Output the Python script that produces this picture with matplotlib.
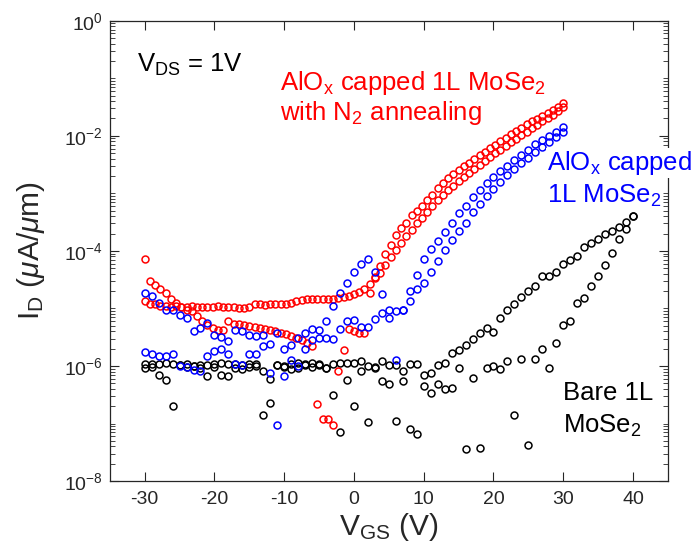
import numpy as np
import matplotlib
matplotlib.use('Agg')
import matplotlib.pyplot as plt

plt.rcParams['font.family'] = ['Liberation Sans', 'DejaVu Sans']
plt.rcParams['mathtext.fontset'] = 'custom'
plt.rcParams['mathtext.rm'] = 'Liberation Sans'
plt.rcParams['mathtext.it'] = 'Liberation Sans:italic'
plt.rcParams['mathtext.bf'] = 'Liberation Sans:bold'

# gate voltage sweeps
vgs_red = np.arange(-30, 30.01, 0.75)
vgs_blue = np.arange(-30, 31, 1)
vgs_black = np.arange(-30, 41, 1)

# log10(I_D), two sweeps per device
red_fwd = [-4.87, -4.92, -4.93, -4.95, -4.96, -4.97, -4.96, -4.97, -4.97, -4.96,
           -4.97, -4.97, -4.97, -4.97, -4.96, -4.97, -4.97, -4.98, -4.99, -5.00,
           -4.97, -4.93, -4.93, -4.94, -4.93, -4.93, -4.92, -4.92, -4.90, -4.87,
           -4.85, -4.84, -4.84, -4.84, -4.84, -4.84, -4.83, -4.82, -4.80, -4.79,
           -4.75, -4.71, -4.66, -4.58, -4.48, -4.38, -4.24, -4.10, -3.98, -3.86,
           -3.74, -3.64, -3.52, -3.42, -3.32, -3.22, -3.12, -3.03, -2.95, -2.87,
           -2.79, -2.72, -2.64, -2.57, -2.50, -2.44, -2.37, -2.30, -2.24, -2.18,
           -2.11, -2.05, -1.99, -1.93, -1.87, -1.81, -1.75, -1.69, -1.63, -1.57,
           -1.50]
red_rev = [-4.14, -4.52, -4.60, -4.66, -4.74, -4.84, -4.91, -4.98, -5.02, -5.05,
           -5.14, -5.21, -5.28, -5.34, -5.38, -5.37, -5.21, -5.27, -5.27, -5.28,
           -5.30, -5.32, -5.34, -5.35, -5.37, -5.40, -5.42, -5.45, -5.48, -5.52,
           -5.55, -5.60, -5.65, -6.66, -6.93, -6.93, -7.02, -6.09, -5.72, -5.36,
           -5.40, -5.43, -5.42, -4.73, -4.45, -4.26, -4.05, -3.89, -3.72, -3.60,
           -3.52, -3.37, -3.30, -3.22, -3.12, -3.03, -2.90, -2.82, -2.74, -2.67,
           -2.60, -2.53, -2.47, -2.41, -2.34, -2.28, -2.22, -2.16, -2.09, -2.03,
           -1.97, -1.92, -1.86, -1.80, -1.75, -1.70, -1.65, -1.60, -1.55, -1.50,
           -1.43]

blue_fwd = [-4.73, -4.79, -4.90, -5.02, -5.02, -5.11, -5.17, -5.40, -5.34, -5.25,
            -5.46, -5.50, -5.57, -5.37, -5.39, -5.47, -5.48, -5.46, -5.61, -5.42,
            -5.70, -5.63, -5.51, -5.43, -5.36, -5.37, -5.22, -4.96, -4.73, -4.56,
            -4.37, -4.22, -4.14, -4.37, -4.75, -5.02, -5.05, -5.02, -4.87, -4.66,
            -4.55, -4.37, -4.18, -3.98, -3.81, -3.65, -3.51, -3.33, -3.18, -3.05,
            -2.92, -2.80, -2.68, -2.57, -2.47, -2.38, -2.29, -2.20, -2.11, -2.02,
            -1.94]
blue_rev = [-5.76, -5.80, -5.82, -5.82, -5.79, -6.00, -6.02, -6.07, -6.09, -5.83,
            -5.74, -5.70, -5.80, -5.97, -5.98, -5.80, -5.79, -5.66, -6.12, -7.02,
            -6.18, -5.90, -6.00, -5.70, -5.55, -5.51, -5.51, -5.54, -5.36, -5.22,
            -5.20, -5.32, -5.32, -5.18, -5.08, -5.16, -5.89, -5.02, -4.70, -4.42,
            -4.14, -3.97, -3.82, -3.68, -3.51, -3.34, -3.22, -3.07, -2.94, -2.82,
            -2.72, -2.62, -2.52, -2.42, -2.33, -2.24, -2.15, -2.07, -2.00, -1.93,
            -1.85]

black_fwd = [-5.96, -5.96, -5.97, -5.95, -5.97, -5.98, -5.96, -6.00, -5.98, -5.99,
             -5.97, -5.94, -5.96, -5.97, -5.98, -5.96, -5.96, -6.09, -6.23, -5.98,
             -6.00, -5.97, -5.95, -5.96, -5.95, -5.97, -6.04, -5.96, -5.95, -5.95,
             -5.95, -5.92, -6.00, -6.02, -5.92, -5.98, -5.98, -6.08, -5.96, -5.96,
             -6.15, -6.12, -5.98, -5.94, -5.78, -5.72, -5.63, -5.53, -5.42, -5.34,
             -5.41, -5.17, -5.02, -4.92, -4.81, -4.70, -4.61, -4.44, -4.44, -4.36,
             -4.23, -4.15, -4.09, -3.93, -3.87, -3.80, -3.71, -3.66, -3.58, -3.49,
             -3.40]
black_rev = [-6.03, -6.02, -6.15, -6.24, -6.70, -5.99, -6.02, -6.00, -6.04, -6.17,
             -6.02, -6.15, -6.18, -6.03, -6.05, -6.02, -6.00, -6.86, -6.64, -5.98,
             -6.02, -6.05, -6.03, -5.99, -6.02, -5.99, -6.04, -6.50, -7.15, -6.25,
             -6.70, -6.09, -6.98, -6.04, -6.27, -6.31, -6.96, -6.27, -7.09, -7.19,
             -6.35, -6.47, -6.31, -6.40, -6.38, -6.04, -7.44, -6.21, -7.42, -6.04,
             -6.00, -6.06, -5.92, -6.85, -5.88, -7.37, -5.88, -5.70, -6.04, -5.60,
             -5.28, -5.21, -4.91, -4.82, -4.61, -4.43, -4.24, -4.03, -3.80, -3.62,
             -3.40]


def sweep(ax, v, logi, color):
  ax.plot(v, 10.0 ** np.array(logi), 'o', ls='none', mfc='none', mec=color,
          ms=5.0, mew=1.1, clip_on=False)


fig = plt.figure(figsize=(6.95, 5.6), dpi=100)
ax = fig.add_axes([0.158, 0.141, 0.803, 0.822])

sweep(ax, vgs_black, black_fwd, 'black')
sweep(ax, vgs_black, black_rev, 'black')
sweep(ax, vgs_red, red_fwd, '#ff0000')
sweep(ax, vgs_red, red_rev, '#ff0000')
sweep(ax, vgs_blue, blue_fwd, '#0000ff')
sweep(ax, vgs_blue, blue_rev, '#0000ff')

ax.set_yscale('log')
ax.set_xlim(-35, 45)
ax.set_ylim(1e-8, 1e0)
ax.set_xticks(np.arange(-30, 41, 10))
ax.set_xticklabels([str(t) for t in range(-30, 41, 10)])
major = [1e-8, 1e-6, 1e-4, 1e-2, 1e0]
ax.set_yticks(major)
ax.set_yticklabels([r'$10^{%d}$' % e for e in range(-8, 1, 2)])
minor = [m * 10.0 ** e for e in range(-8, 0) for m in range(1, 10)]
minor = [t for t in minor if t not in major]
ax.set_yticks(minor, minor=True)
ax.yaxis.set_minor_formatter(plt.NullFormatter())
ax.xaxis.set_minor_locator(plt.NullLocator())

edge = '#262626'
for s in ax.spines.values():
  s.set_color(edge)
  s.set_linewidth(0.9)
ax.tick_params(which='both', direction='in', top=True, right=True, colors=edge,
               labelcolor=edge, labelsize=14)
ax.tick_params(which='major', length=6.5, width=0.8)
ax.tick_params(which='minor', length=3.5, width=0.6)
ax.tick_params(axis='x', pad=7)
ax.tick_params(axis='y', pad=5)

ax.set_xlabel(r'V$_{\rm GS}$ (V)', fontsize=21.5, color=edge)
ax.set_ylabel(r'I$_{\rm D}$ ($\mu$A/$\mu$m)', fontsize=21.5, color=edge)
ax.xaxis.set_label_coords(0.5, -0.066)
ax.yaxis.set_label_coords(-0.112, 0.5)

txt = 18.5
ax.text(0.048, 0.888, r'V$_{\rm DS}$ = 1V', transform=ax.transAxes, fontsize=txt,
        color='black', va='baseline')
ax.text(0.305, 0.849, r'AlO$_{\rm x}$ capped 1L MoSe$_2$', transform=ax.transAxes,
        fontsize=txt, color='#ff0000', va='baseline')
ax.text(0.305, 0.784, r'with N$_2$ annealing', transform=ax.transAxes,
        fontsize=txt, color='#ff0000', va='baseline')
ax.text(0.783, 0.676, r'AlO$_{\rm x}$ capped', transform=ax.transAxes, fontsize=txt,
        color='#0000ff', va='baseline', zorder=5, clip_on=False,
        bbox=dict(facecolor='white', edgecolor='none', pad=1))
ax.text(0.783, 0.604, r'1L MoSe$_2$', transform=ax.transAxes, fontsize=txt,
        color='#0000ff', va='baseline')
ax.text(0.812, 0.176, 'Bare 1L', transform=ax.transAxes, fontsize=txt,
        color='black', va='baseline')
ax.text(0.812, 0.104, r'MoSe$_2$', transform=ax.transAxes, fontsize=txt,
        color='black', va='baseline')

fig.savefig('out.png', dpi=100)
